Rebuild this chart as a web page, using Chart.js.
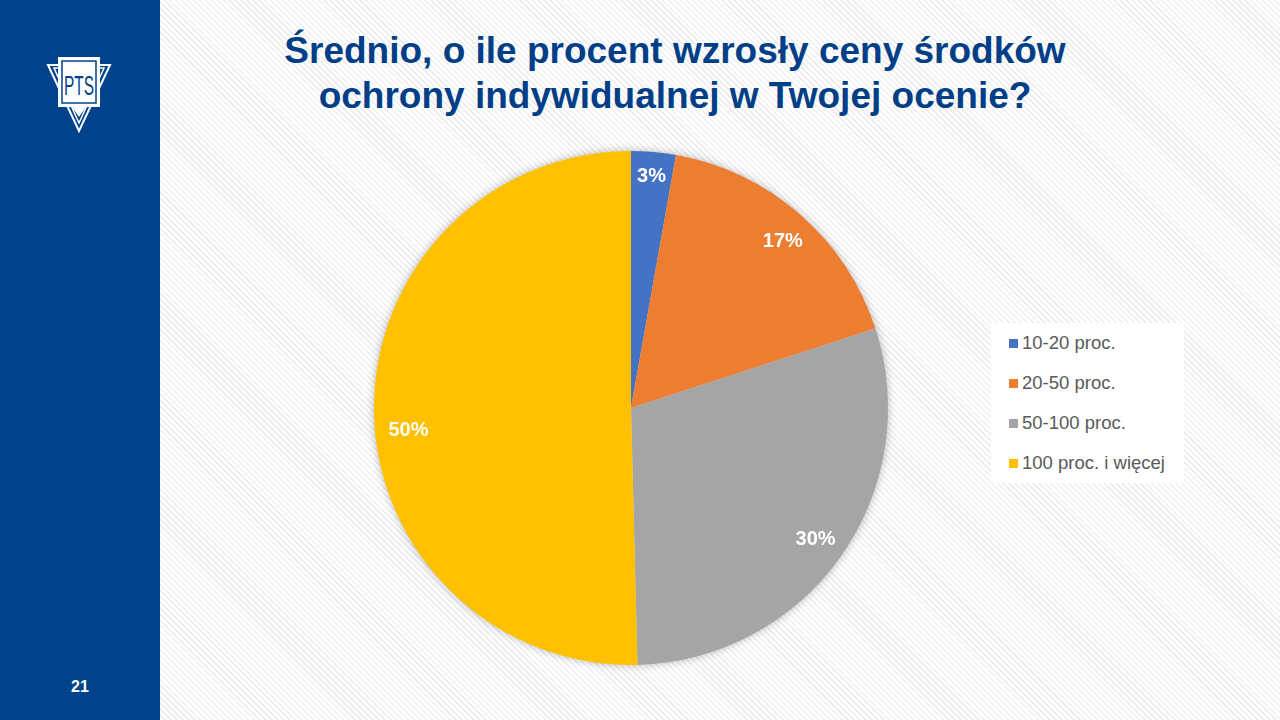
<!DOCTYPE html>
<html><head><meta charset="utf-8">
<script src="https://cdn.jsdelivr.net/npm/chart.js@4/dist/chart.umd.min.js"></script>
<style>
html,body{margin:0;padding:0;}
body{width:1280px;height:720px;position:relative;overflow:hidden;font-family:"Liberation Sans",Arial,sans-serif;
background:repeating-linear-gradient(45deg,#ffffff 0px,#ffffff 2.5px,#efefef 2.5px,#efefef 4.2px);}
#side{position:absolute;left:0;top:0;width:160px;height:720px;background:#00428B;}
#num{position:absolute;left:0;width:160px;top:678px;text-align:center;color:#fff;font-weight:bold;font-size:16px;}
#logo{position:absolute;left:46px;top:55px;}
#title{position:absolute;left:163px;width:1024px;top:28px;text-align:center;color:#003F87;font-weight:bold;font-size:37px;line-height:45px;}
#wrap{position:absolute;left:331px;top:108px;width:600px;height:600px;}
#legend{position:absolute;left:991px;top:323px;width:193px;height:160px;background:#fff;}
.li{position:absolute;left:18px;font-size:18.5px;color:#595959;white-space:nowrap;}
.sw{display:inline-block;width:9px;height:9px;margin-right:4px;vertical-align:1px;}
</style></head><body>
<div id="side"></div>
<svg id="logo" width="66" height="78" viewBox="0 0 66 78">
  <polygon points="2,10 64,10 33,76" fill="none" stroke="#fff" stroke-width="2"/>
  <polygon points="8,13 58,13 33,68" fill="none" stroke="#fff" stroke-width="1.5"/>
  <path d="M12,2 L54,2 L54,52 L40,52 L33,62 L26,52 L12,52 Z" fill="#fff"/>
  <rect x="16" y="6" width="34" height="42" fill="#fff" stroke="#00428B" stroke-width="1.5"/>
  <text x="33" y="40" text-anchor="middle" font-family="Liberation Sans Narrow, Liberation Sans, Arial" font-size="28" fill="#00428B" textLength="30" lengthAdjust="spacingAndGlyphs">PTS</text>
</svg>
<div id="num">21</div>
<div id="title">Średnio, o ile procent wzrosły ceny środków<br>ochrony indywidualnej w Twojej ocenie?</div>
<div id="wrap"><canvas id="c" width="600" height="600"></canvas></div>
<div id="legend"></div>
<script>
const categories = ["10-20 proc.", "20-50 proc.", "50-100 proc.", "100 proc. i więcej"];
const values = [2.8, 17.2, 29.6, 50.4];
const labelsShown = ["3%", "17%", "30%", "50%"];
const colors = ["#4472C4", "#ED7D31", "#A5A5A5", "#FFC000"];

const lg = document.getElementById('legend');
categories.forEach((c,i)=>{
  const d=document.createElement('div');d.className='li';d.style.top=(9+i*40)+'px';
  d.innerHTML='<span class="sw" style="background:'+colors[i]+'"></span>'+c;
  lg.appendChild(d);
});

const labelRadius = [0.91, 0.88, 0.88, 0.87];
const labelShift = [0, 0.02, 0, -0.085];
const shadowPlugin = {
  id:'shadow',
  beforeDatasetsDraw(chart){
    const arc = chart.getDatasetMeta(0).data[0];
    const ctx = chart.ctx;
    ctx.save();
    ctx.shadowColor='rgba(0,0,0,0.35)';
    ctx.shadowBlur=10;
    ctx.shadowOffsetX=0;ctx.shadowOffsetY=0;
    ctx.beginPath();ctx.arc(arc.x,arc.y,arc.outerRadius-1,0,Math.PI*2);
    ctx.fillStyle='#ddd';ctx.fill();
    ctx.restore();
  }
};
const labelPlugin = {
  id:'lbl',
  afterDatasetsDraw(chart){
    const ctx=chart.ctx;
    ctx.save();
    ctx.font='bold 20px "Liberation Sans", Arial, sans-serif';
    ctx.fillStyle='#fff';ctx.textAlign='center';ctx.textBaseline='middle';
    chart.getDatasetMeta(0).data.forEach((a,i)=>{
      const mid=(a.startAngle+a.endAngle)/2+labelShift[i];
      const r=a.outerRadius*labelRadius[i];
      ctx.fillText(labelsShown[i], a.x+Math.cos(mid)*r, a.y+Math.sin(mid)*r+1);
    });
    ctx.restore();
  }
};
new Chart(document.getElementById('c'),{
  type:'pie',
  data:{labels:categories,datasets:[{data:values,backgroundColor:colors,borderWidth:0}]},
  options:{responsive:false,animation:false,
    layout:{padding:43},
    plugins:{legend:{display:false},tooltip:{enabled:false}}},
  plugins:[shadowPlugin,labelPlugin]
});
</script>
</body></html>
